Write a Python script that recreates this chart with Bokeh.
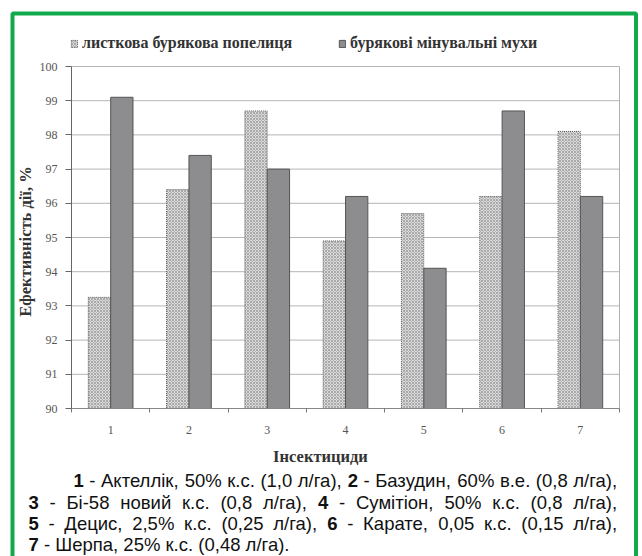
import math
from bokeh.plotting import figure
from bokeh.models import (Range1d, FixedTicker, Legend, LegendItem, Label,
                          BoxAnnotation, ColumnDataSource)
from bokeh.transform import dodge
from bokeh.embed import file_html
from bokeh.resources import INLINE

# ---------------- data ----------------
categories = ["1", "2", "3", "4", "5", "6", "7"]
aphid = [93.25, 96.4, 98.7, 94.9, 95.7, 96.2, 98.1]      # листкова бурякова попелиця
flies = [99.1, 97.4, 97.0, 96.2, 94.1, 98.7, 96.2]       # бурякові мінувальні мухи
y_ticks = [90, 91, 92, 93, 94, 95, 96, 97, 98, 99, 100]
series_names = ["листкова бурякова попелиця", "бурякові мінувальні мухи"]
x_title = "Інсектициди"
y_title = "Ефективність дії, %"

caption_lines = [
    [("1", True), ("-", False), ("Актеллік,", False), ("50%", False), ("к.с.", False),
     ("(1,0", False), ("л/га),", False), ("2", True), ("-", False), ("Базудин,", False),
     ("60%", False), ("в.е.", False), ("(0,8", False), ("л/га),", False)],
    [("3", True), ("-", False), ("Бі-58", False), ("новий", False), ("к.с.", False),
     ("(0,8", False), ("л/га),", False), ("4", True), ("-", False), ("Сумітіон,", False),
     ("50%", False), ("к.с.", False), ("(0,8", False), ("л/га),", False)],
    [("5", True), ("-", False), ("Децис,", False), ("2,5%", False), ("к.с.", False),
     ("(0,25", False), ("л/га),", False), ("6", True), ("-", False), ("Карате,", False),
     ("0,05", False), ("к.с.", False), ("(0,15", False), ("л/га),", False)],
    [("7", True), ("-", False), ("Шерпа,", False), ("25%", False), ("к.с.", False),
     ("(0,48", False), ("л/га).", False)],
]

# ---------------- layout (page pixels) ----------------
W, H = 642, 556
FRAME_L, FRAME_R, FRAME_T, FRAME_B = 71, 619, 66, 408
CAP_FS = 18.5
line_start = [73, 28, 28, 28]
line_justify = [True, True, True, False]
line_end = 617
cap_centers = [480, 501.5, 523, 543.5]

# approximate Arial / Liberation Sans advance widths (1/1000 em)
ADV = {" ": 278, "-": 333, "%": 889, "(": 333, ")": 333, ",": 278, ".": 278, "/": 278,
       "А": 667, "Б": 657, "Д": 677, "К": 583, "С": 722, "Ш": 917,
       "а": 556, "в": 531, "г": 365, "д": 583, "е": 556, "з": 458, "и": 559, "й": 559,
       "к": 438, "л": 583, "м": 688, "н": 552, "о": 556, "п": 542, "р": 556, "с": 500,
       "т": 458, "у": 500, "ц": 573, "і": 222}


def text_w(s, fs):
    return sum(ADV.get(ch, 556) for ch in s) * fs / 1000.0


n = len(categories)
x0, x1 = 0.5, n + 0.5
y0, y1 = y_ticks[0], y_ticks[-1]
kx = (FRAME_R - FRAME_L) / (x1 - x0)
ky = (FRAME_B - FRAME_T) / (y1 - y0)
xr = Range1d(x0 - FRAME_L / kx, x1 + (W - FRAME_R) / kx)
yr = Range1d(y0 - (H - FRAME_B) / ky, y1 + FRAME_T / ky)

source = ColumnDataSource(dict(x=list(range(1, n + 1)), aphid=aphid, flies=flies))

p = figure(width=W, height=H, output_backend="svg", toolbar_location=None,
           x_range=xr, y_range=yr, min_border=0, title=None)
p.background_fill_color = "white"
p.border_fill_color = "white"
p.outline_line_color = None
p.xgrid.visible = False
p.ygrid.visible = False

# grid lines and right frame edge
p.segment(x0=[x0] * len(y_ticks), x1=[x1] * len(y_ticks), y0=y_ticks, y1=y_ticks,
          line_color="#b5b5b5", line_width=1)
p.segment(x0=[x1], x1=[x1], y0=[y0], y1=[y1], line_color="#b0b0b0", line_width=1)

r1 = p.vbar(x=dodge("x", -0.143), top="aphid", bottom=y0, width=0.285, source=source,
            fill_color="#dadada", hatch_pattern="x", hatch_color="#8a8a8a",
            hatch_scale=3, hatch_weight=0.6,
            line_color="#606060", line_dash="1 1", line_width=1)
r2 = p.vbar(x=dodge("x", 0.143), top="flies", bottom=y0, width=0.285, source=source,
            fill_color="#8d8d8f", line_color="#555555", line_width=1)

# axes (fixed inside the full-canvas frame)
ya = p.yaxis[0]
ya.fixed_location = x0
ya.bounds = (y0, y1)
ya.ticker = FixedTicker(ticks=y_ticks)
ya.axis_line_color = "#666666"
ya.major_tick_line_color = "#666666"
ya.major_tick_out = 6
ya.major_tick_in = 0
ya.minor_tick_line_color = None
ya.major_label_text_font = "Liberation Serif"
ya.major_label_text_font_size = "12px"
ya.major_label_text_color = "#555555"
ya.major_label_standoff = 8

xa = p.xaxis[0]
xa.fixed_location = y0
xa.bounds = (x0, x1)
xa.ticker = FixedTicker(ticks=list(range(1, n + 1)),
                        minor_ticks=[i + 0.5 for i in range(0, n + 1)])
xa.major_label_overrides = {i + 1: c for i, c in enumerate(categories)}
xa.axis_line_color = "#888888"
xa.major_tick_line_color = None
xa.minor_tick_line_color = "#777777"
xa.minor_tick_out = 4
xa.minor_tick_in = 0
xa.major_label_text_font = "Liberation Serif"
xa.major_label_text_font_size = "12px"
xa.major_label_text_color = "#555555"
xa.major_label_standoff = 11


def make_legend(name, r, loc):
    return Legend(items=[LegendItem(label=name, renderers=[r])], location=loc,
                  orientation="horizontal", glyph_width=8, glyph_height=9,
                  label_text_font="Liberation Serif", label_text_font_style="bold",
                  label_text_font_size="16px", label_text_color="#333333",
                  label_height=15, padding=0, margin=0, spacing=0, label_standoff=4,
                  border_line_alpha=0, background_fill_alpha=0)


p.add_layout(make_legend(series_names[0], r1, (70, H - 52)), "center")
p.add_layout(make_legend(series_names[1], r2, (338, H - 52)), "center")

# axis titles
p.add_layout(Label(x=320, y=H - 456, x_units="screen", y_units="screen",
                   text=x_title, text_font="Liberation Serif", text_font_style="bold",
                   text_font_size="16.5px", text_color="#333333",
                   text_align="center", text_baseline="middle"))
p.add_layout(Label(x=25, y=H - 241, x_units="screen", y_units="screen", angle=math.pi / 2,
                   text=y_title, text_font="Liberation Serif", text_font_style="bold",
                   text_font_size="16.5px", text_color="#333333",
                   text_align="center", text_baseline="middle"))

# caption (justified)
for words, xs, just, cy in zip(caption_lines, line_start, line_justify, cap_centers):
    widths = [text_w(w, CAP_FS) for w, _ in words]
    if just:
        gap = (line_end - xs - sum(widths)) / (len(words) - 1)
    else:
        gap = ADV[" "] * CAP_FS / 1000.0
    xx = xs
    for (w, bold), wd in zip(words, widths):
        p.add_layout(Label(x=xx, y=H - cy, x_units="screen", y_units="screen",
                           text=w, text_font="Liberation Sans",
                           text_font_style="bold" if bold else "normal",
                           text_font_size=f"{CAP_FS}px", text_color="#111111",
                           text_align="left", text_baseline="middle"))
        xx += wd + gap

p.add_layout(BoxAnnotation(left=12, right=635.5, top=H - 13, bottom=-50,
                           left_units="screen", right_units="screen",
                           top_units="screen", bottom_units="screen",
                           fill_alpha=0, line_color="#10aa4c", line_alpha=1.0,
                           line_width=4))

open("out.html", "w").write(file_html(p, INLINE))
